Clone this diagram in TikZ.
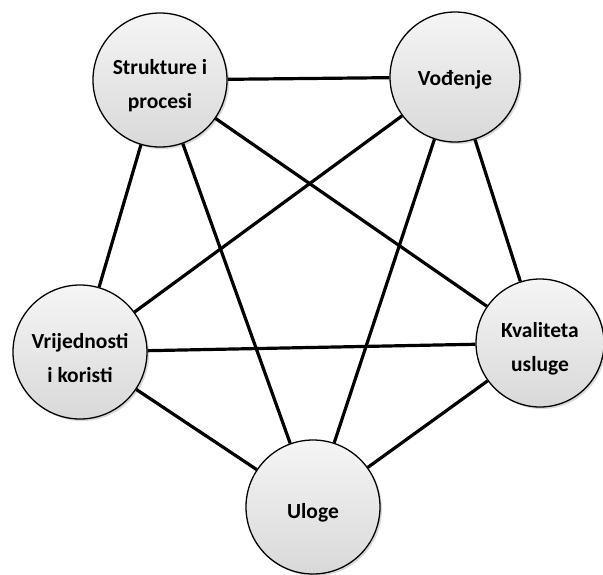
\documentclass[tikz,border=0pt]{standalone}
\usepackage{fontspec}
\setmainfont{Carlito}
\usetikzlibrary{shadows}
\begin{document}
\begin{tikzpicture}[x=1pt,y=-1pt,
  ball/.style={circle, draw=black, line width=1.3pt, minimum size=#1,
    top color=gray!8, bottom color=gray!30, inner sep=0pt,
    drop shadow={shadow xshift=2pt, shadow yshift=-2pt, fill=black, opacity=0.15}},
  balltext/.style={font=\bfseries\fontsize{21.5}{34}\selectfont, align=center, inner sep=0pt, yshift=-6pt},
  link/.style={line width=3.2pt}]
\useasboundingbox (0,0) rectangle (603,574);
\node[ball=134pt] (s) at (160,80) {};
\node[ball=130pt] (v) at (455,77) {};
\node[ball=134pt] (r) at (80,352) {};
\node[ball=128pt] (k) at (540,343) {};
\node[ball=134pt] (u) at (313,507) {};
\node[balltext] (st) at (s) {Strukture i\\procesi};
\node[balltext, yshift=3pt] (vt) at (v) {Vođenje};
\node[balltext] (rt) at (r) {Vrijednosti\\i koristi};
\node[balltext] (kt) at (k) {Kvaliteta\\usluge};
\node[balltext] (ut) at (u) {Uloge};
\begin{scope}[link]
\draw (s) -- (v);
\draw (s) -- (r);
\draw (s) -- (k);
\draw (s) -- (u);
\draw (v) -- (r);
\draw (v) -- (k);
\draw (v) -- (u);
\draw (r) -- (k);
\draw (r) -- (u);
\draw (k) -- (u);
\end{scope}
\end{tikzpicture}
\end{document}
